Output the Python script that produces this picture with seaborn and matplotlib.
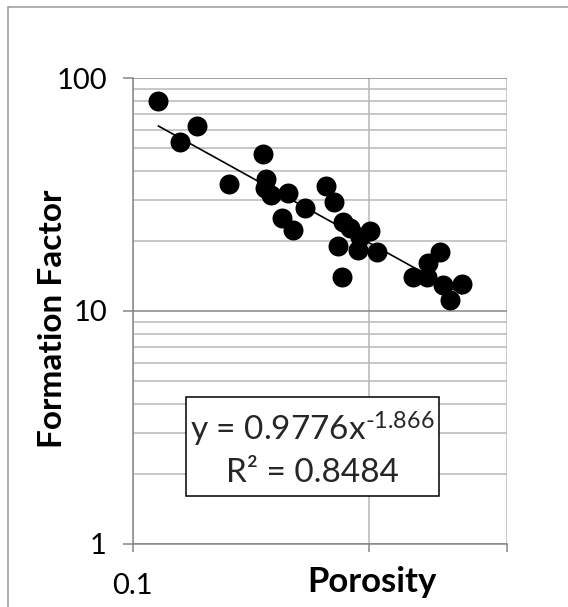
import numpy as np
import pandas as pd
import matplotlib
matplotlib.use("Agg")
import matplotlib.pyplot as plt
from matplotlib.lines import Line2D
from matplotlib.patches import Rectangle
from matplotlib.ticker import FixedLocator, NullLocator, NullFormatter, LogLocator
import seaborn as sns

# Core samples: porosity (fraction) and formation factor
porosity = [0.1078, 0.1149, 0.1209, 0.1328, 0.1468, 0.1479, 0.1476, 0.1500,
            0.1579, 0.1659, 0.1549, 0.1603, 0.1766, 0.1806, 0.1856, 0.1893,
            0.1829, 0.1940, 0.1950, 0.2008, 0.2048, 0.1848, 0.2276, 0.2371,
            0.2383, 0.2466, 0.2490, 0.2629, 0.2540]
formation_factor = [79.9, 53.2, 62.4, 35.1, 47.1, 36.8, 33.7, 31.5,
                    32.2, 27.8, 25.0, 22.3, 34.3, 29.3, 24.2, 22.7,
                    19.0, 18.3, 20.9, 22.1, 18.0, 14.0, 14.0, 14.0,
                    16.1, 18.0, 12.9, 13.1, 11.1]

# Power-law trendline  F = a * phi^b
fit_a = 0.9776
fit_b = -1.866
fit_r2 = 0.8484

x_ticks = [0.1, 0.2, 0.3]
x_tick_labels = ["0.1", "", ""]
y_ticks = [1, 10, 100]
y_tick_labels = ["1", "10", "100"]

sns.set_theme(style="white")
plt.rcParams["font.family"] = ["Lato", "DejaVu Sans"]
plt.rcParams["mathtext.fontset"] = "custom"
plt.rcParams["mathtext.rm"] = "Lato"
plt.rcParams["mathtext.it"] = "Lato"

GRID_MAJOR = "#868686"
GRID_MINOR = "#b8b8b8"

fig = plt.figure(figsize=(5.68, 6.07), dpi=100)
fig.patch.set_facecolor("white")
ax = fig.add_axes([0.2336, 0.1043, 0.6585, 0.7667])

df = pd.DataFrame({"Porosity": porosity, "Formation Factor": formation_factor})
sns.scatterplot(data=df, x="Porosity", y="Formation Factor", color="black",
                s=207, linewidth=0, ax=ax, zorder=3, legend=False)

trend_x = np.geomspace(min(porosity), max(porosity), 60)
trend_y = fit_a * trend_x ** fit_b
sns.lineplot(x=trend_x, y=trend_y, color="black", linewidth=1.2, ax=ax,
             zorder=4, estimator=None, sort=False)

ax.set_xscale("log")
ax.set_yscale("log")
ax.set_xlim(0.1, 0.3)
ax.set_ylim(1, 100)

ax.xaxis.set_major_locator(FixedLocator(x_ticks))
ax.set_xticklabels(x_tick_labels)
ax.xaxis.set_minor_locator(NullLocator())
ax.yaxis.set_major_locator(FixedLocator(y_ticks))
ax.set_yticklabels(y_tick_labels)
ax.yaxis.set_minor_locator(LogLocator(base=10, subs=range(2, 10)))
ax.yaxis.set_minor_formatter(NullFormatter())

ax.grid(False)
ax.yaxis.grid(True, which="major", color=GRID_MAJOR, linewidth=1.1)
ax.yaxis.grid(True, which="minor", color=GRID_MINOR, linewidth=1.1)
ax.xaxis.grid(True, which="major", color=GRID_MINOR, linewidth=1.1)
ax.set_axisbelow(True)

for side in ("top", "right"):
    ax.spines[side].set_visible(False)
for side in ("left", "bottom"):
    ax.spines[side].set_color(GRID_MAJOR)
    ax.spines[side].set_linewidth(1.1)
    ax.spines[side].set_zorder(2.5)

ax.tick_params(axis="y", which="major", direction="out", length=7.5, width=1.1,
               color=GRID_MAJOR, labelsize=21, pad=11, labelcolor="black", left=True)
ax.tick_params(axis="y", which="minor", length=0)
ax.tick_params(axis="x", which="major", direction="out", length=6, width=1.1,
               color=GRID_MAJOR, labelsize=21, pad=15, labelcolor="black", bottom=True)

ax.set_xlabel("Porosity", fontsize=25, fontweight="bold", color="black")
ax.set_ylabel("Formation Factor", fontsize=24, fontweight="bold", color="black")
ax.xaxis.set_label_coords(0.641, -0.047)
ax.yaxis.set_label_coords(-0.215, 0.483)
ax.yaxis.label.set_verticalalignment("center")

# Trendline equation box
ax.add_patch(Rectangle((0.1425, 0.1025), 0.6765, 0.2134, transform=ax.transAxes,
                       facecolor="white", edgecolor="black", linewidth=1.1, zorder=5))
exponent = ("%.3f" % fit_b).replace("-", "\u2010")
ax.text(0.481, 0.246, r"y = %.4fx$^{\mathregular{%s}}$" % (fit_a, exponent),
        transform=ax.transAxes, ha="center", va="center", fontsize=24, zorder=6)
ax.text(0.481, 0.152, "R\u00b2 = %.4f" % fit_r2,
        transform=ax.transAxes, ha="center", va="center", fontsize=24, zorder=6)

# Chart area frame
frame_kw = dict(transform=fig.transFigure, color="#9a9a9a", linewidth=1.1)
fig.add_artist(Line2D([7.5 / 568, 7.5 / 568], [0, 1 - 7 / 607], **frame_kw))
fig.add_artist(Line2D([7.5 / 568, 1], [1 - 7 / 607, 1 - 7 / 607], **frame_kw))

fig.savefig("out.png", dpi=100, facecolor="white")
